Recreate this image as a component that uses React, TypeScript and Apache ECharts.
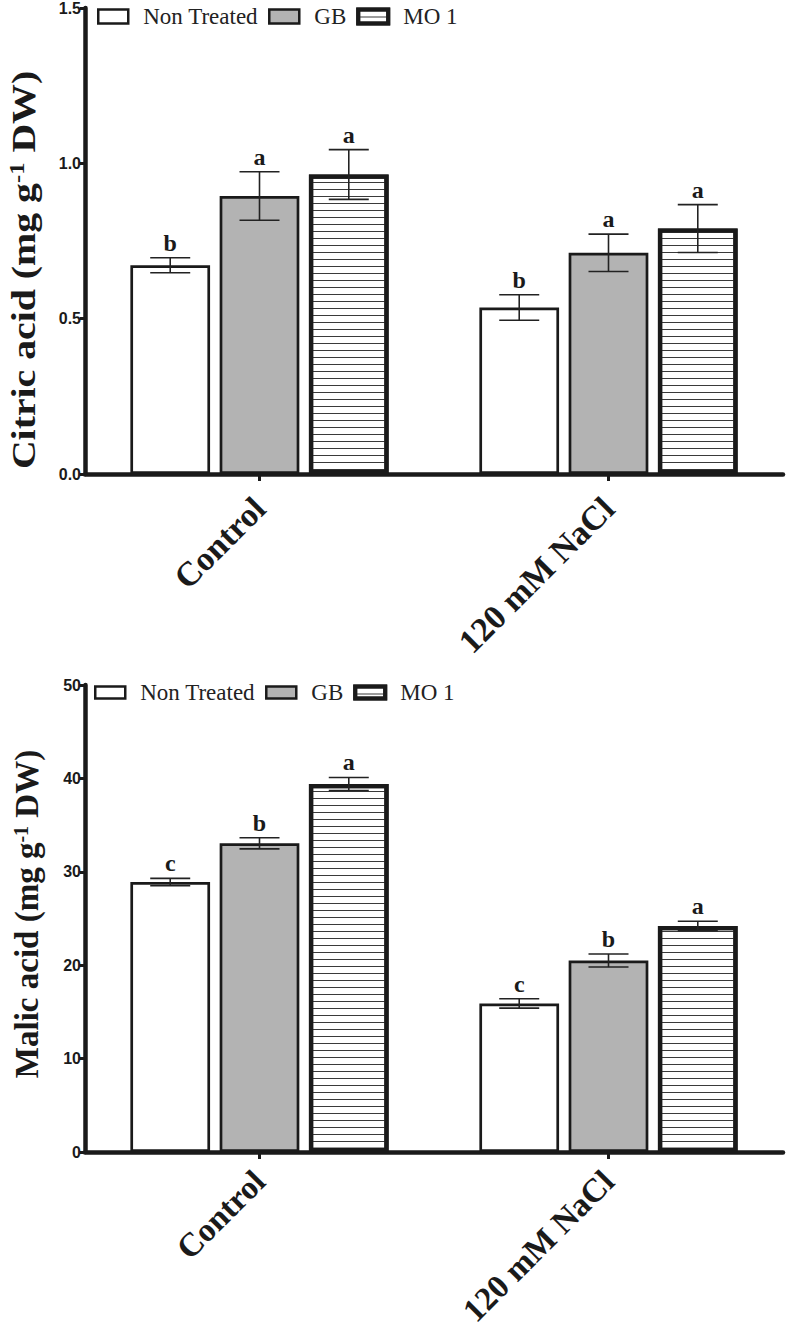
import React, { useEffect, useRef } from "react";
import * as echarts from "echarts";

const categories = ["Control", "120 mM NaCl"];
const seriesNames = ["Non Treated", "GB", "MO 1"];

// Citric acid (mg g-1 DW)
const citricNonTreated = [0.672, 0.536];
const citricGB = [0.895, 0.712];
const citricMO1 = [0.964, 0.79];
const citricNonTreatedErr = [0.024, 0.041];
const citricGBErr = [0.078, 0.06];
const citricMO1Err = [0.08, 0.077];
const citricNonTreatedLetters = ["b", "b"];
const citricGBLetters = ["a", "a"];
const citricMO1Letters = ["a", "a"];

// Malic acid (mg g-1 DW)
const malicNonTreated = [28.9, 15.9];
const malicGB = [33.05, 20.5];
const malicMO1 = [39.4, 24.2];
const malicNonTreatedErr = [0.4, 0.5];
const malicGBErr = [0.6, 0.7];
const malicMO1Err = [0.7, 0.5];
const malicNonTreatedLetters = ["c", "c"];
const malicGBLetters = ["b", "b"];
const malicMO1Letters = ["a", "a"];

const citricTicks = { min: 0, max: 1.5, interval: 0.5 };
const malicTicks = { min: 0, max: 50, interval: 10 };

const CAT_GAP = 0.26;
const BAR_GAP = 0.12;
const INK = "#1a1a1a";
const SERIF = "'Liberation Serif', 'Times New Roman', serif";
const SANS = "'Liberation Sans', Arial, sans-serif";

const barStyles = [
  { color: "#ffffff", borderColor: INK, borderWidth: 2.7 },
  { color: "#b3b3b3", borderColor: INK, borderWidth: 2.7 },
  {
    color: "#ffffff",
    borderColor: INK,
    borderWidth: 4.3,
    decal: {
      symbol: "rect",
      symbolSize: 1,
      dashArrayX: [1, 0],
      dashArrayY: [1, 6],
      color: "#3a3a3a",
      rotation: 0,
    },
  },
];

function barSeries(gridIdx: number, idx: number, values: number[]) {
  return {
    type: "bar",
    name: seriesNames[idx],
    xAxisIndex: gridIdx,
    yAxisIndex: gridIdx,
    data: values,
    barCategoryGap: (CAT_GAP * 100).toFixed(0) + "%",
    barGap: (BAR_GAP * 100).toFixed(0) + "%",
    itemStyle: barStyles[idx],
    emphasis: { disabled: true },
  };
}

function errSeries(
  gridIdx: number,
  idx: number,
  means: number[],
  errs: number[],
  letters: string[]
) {
  return {
    type: "custom",
    xAxisIndex: gridIdx,
    yAxisIndex: gridIdx,
    z: 10,
    silent: true,
    data: means.map((m, k) => [k, m, errs[k]]),
    renderItem: (params: any, api: any) => {
      const k = api.value(0);
      const m = api.value(1);
      const e = api.value(2);
      const letter = letters[params.dataIndex];
      const catW = api.size([1, 0])[0];
      const groupW = catW * (1 - CAT_GAP);
      const bw = groupW / (3 + 2 * BAR_GAP);
      const base = api.coord([k, m]);
      const cx = base[0] - groupW / 2 + bw / 2 + idx * bw * (1 + BAR_GAP);
      const yTop = api.coord([k, m + e])[1];
      const yBot = api.coord([k, m - e])[1];
      const cap = 20;
      const ls = { stroke: "#222", lineWidth: 1.6 };
      return {
        type: "group",
        children: [
          { type: "line", shape: { x1: cx, y1: yTop, x2: cx, y2: yBot }, style: ls },
          { type: "line", shape: { x1: cx - cap, y1: yTop, x2: cx + cap, y2: yTop }, style: ls },
          { type: "line", shape: { x1: cx - cap, y1: yBot, x2: cx + cap, y2: yBot }, style: ls },
          {
            type: "text",
            x: cx,
            y: yTop - 3,
            style: {
              text: letter,
              fill: INK,
              font: "bold 24px " + SERIF,
              align: "center",
              verticalAlign: "bottom",
            },
          },
        ],
      };
    },
  };
}

function legend(top: number, left: number, iconH: number) {
  return {
    left,
    top,
    orient: "horizontal",
    itemWidth: 30,
    itemHeight: iconH,
    itemGap: 10,
    icon: "rect",
    selectedMode: false,
    textStyle: {
      fontFamily: SERIF,
      fontSize: 23,
      color: "#222",
      padding: [0, 0, 0, 10],
    },
    data: [
      { name: "Non Treated", itemStyle: { borderWidth: 2.5 } },
      { name: "GB", itemStyle: { borderWidth: 2.5 } },
      { name: "MO 1", itemStyle: { borderWidth: 4 } },
    ],
  };
}

function xAxis(gridIdx: number, fontSize: number, margin: number) {
  return {
    gridIndex: gridIdx,
    type: "category",
    data: categories,
    axisLine: { show: true, lineStyle: { color: INK, width: 4.5 } },
    axisTick: { show: true, alignWithLabel: true, length: 7, lineStyle: { color: INK, width: 3 } },
    axisLabel: {
      rotate: 45,
      interval: 0,
      margin,
      fontFamily: SERIF,
      fontWeight: "bold",
      fontSize,
      color: INK,
    },
    splitLine: { show: false },
  };
}

function yAxis(gridIdx: number, t: { min: number; max: number; interval: number }, decimals: number) {
  return {
    gridIndex: gridIdx,
    type: "value",
    min: t.min,
    max: t.max,
    interval: t.interval,
    axisLine: { show: true, lineStyle: { color: INK, width: 4.5 } },
    axisTick: { show: true, length: 5, lineStyle: { color: INK, width: 3 } },
    axisLabel: {
      margin: 4,
      fontFamily: SANS,
      fontWeight: "bold",
      fontSize: 16,
      color: INK,
      formatter: (v: number) => v.toFixed(decimals),
    },
    splitLine: { show: false },
  };
}

function title(x: number, y: number, main: string, size: number, scale: number) {
  return {
    type: "text",
    x,
    y,
    rotation: Math.PI / 2,
    scaleX: scale,
    style: {
      text: "{a|" + main + " (mg g}{s|-1}{a| DW)}",
      align: "center",
      verticalAlign: "middle",
      textAlign: "center",
      textVerticalAlign: "middle",
      fill: INK,
      rich: {
        a: { fontFamily: SERIF, fontWeight: "bold", fontSize: size, fill: INK, color: INK },
        s: {
          fontFamily: SERIF,
          fontWeight: "bold",
          fontSize: Math.round(size * 0.62),
          fill: INK,
          color: INK,
          verticalAlign: "top",
        },
      },
    },
  };
}

export default function App() {
  const ref = useRef<HTMLDivElement>(null);
  useEffect(() => {
    if (!ref.current) return;
    const chart = echarts.init(ref.current, undefined, { renderer: "svg" });
    const option: any = {
      animation: false,
      backgroundColor: "#ffffff",
      grid: [
        { left: 85, top: 8, width: 698, height: 466, outerBoundsMode: "none", containLabel: false },
        { left: 85, top: 685, width: 698, height: 467, outerBoundsMode: "none", containLabel: false },
      ],
      legend: [legend(0, 92, 14), legend(676, 89, 12)],
      xAxis: [xAxis(0, 34, 29), xAxis(1, 33, 24)],
      yAxis: [yAxis(0, citricTicks, 1), yAxis(1, malicTicks, 0)],
      graphic: [
        title(24, 270, "Citric acid", 34, 1.17),
        title(27, 914, "Malic acid", 33, 1),
      ],
      series: [
        barSeries(0, 0, citricNonTreated),
        barSeries(0, 1, citricGB),
        barSeries(0, 2, citricMO1),
        barSeries(1, 0, malicNonTreated),
        barSeries(1, 1, malicGB),
        barSeries(1, 2, malicMO1),
        errSeries(0, 0, citricNonTreated, citricNonTreatedErr, citricNonTreatedLetters),
        errSeries(0, 1, citricGB, citricGBErr, citricGBLetters),
        errSeries(0, 2, citricMO1, citricMO1Err, citricMO1Letters),
        errSeries(1, 0, malicNonTreated, malicNonTreatedErr, malicNonTreatedLetters),
        errSeries(1, 1, malicGB, malicGBErr, malicGBLetters),
        errSeries(1, 2, malicMO1, malicMO1Err, malicMO1Letters),
      ],
    };
    chart.setOption(option);
    return () => chart.dispose();
  }, []);
  return (
    <div
      ref={ref}
      style={{ position: "fixed", left: 0, top: 0, width: 787, height: 1333, background: "#fff" }}
    />
  );
}
